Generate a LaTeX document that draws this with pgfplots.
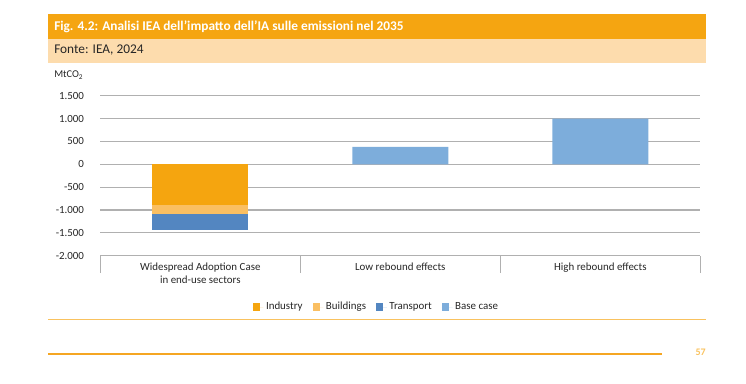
\documentclass[border=0pt]{standalone}
\usepackage{pgfplots}
\pgfplotsset{compat=1.18}
\usepackage{fontspec}
\setmainfont{Carlito}
\definecolor{hdr}{HTML}{F5A511}
\definecolor{hdrlight}{HTML}{FDDCAD}
\definecolor{ind}{HTML}{F5A50F}
\definecolor{bld}{HTML}{FABF62}
\definecolor{trn}{HTML}{5386C1}
\definecolor{base}{HTML}{7DADDB}
\definecolor{gridc}{HTML}{B0B0B0}
\definecolor{lineA}{HTML}{F9C25E}
\definecolor{lineB}{HTML}{F5A623}

\pgfplotstableread{
x ind bld trn base
0 -890 -197 -350 0
1 0 0 0 380
2 0 0 0 1000
}\datatable

\begin{document}
\begin{tikzpicture}
\begin{scope}[x=0.75pt,y=-0.75pt]
\path[use as bounding box] (0,0) rectangle (746,383);
\fill[hdr] (48,14) rectangle (706,38.6);
\fill[hdrlight] (48,38.6) rectangle (706,62.7);
\node[anchor=west, inner sep=0pt, text=white, font=\bfseries\fontsize{10}{12}\selectfont] at (54,26.5) {Fig. 4.2: Analisi IEA dell’impatto dell’IA sulle emissioni nel 2035};
\node[anchor=west, inner sep=0pt, font=\fontsize{10}{12}\selectfont, text=black!85] at (54,50.5) {Fonte: IEA, 2024};
\node[anchor=west, inner sep=0pt, font=\fontsize{7.8}{9}\selectfont, text=black!85] at (54,75) {MtCO\textsubscript{2}};
\draw[lineA, line width=1.1pt] (48,319.7) -- (706,319.7);
\draw[lineB, line width=0.8pt] (48,354) -- (662,354);
\node[anchor=east, inner sep=0pt, text=lineA, font=\bfseries\fontsize{7.5}{8}\selectfont] at (706,352) {57};
\end{scope}
\begin{axis}[
  at={(75.225pt,-191.775pt)}, anchor=south west,
  width=450pt, height=120pt, scale only axis,
  ybar stacked, bar width=72pt,
  xmin=-0.5, xmax=2.5, ymin=-2000, ymax=1500,
  axis line style={draw=none},
  ymajorgrids, grid style={draw=gridc, line width=0.8pt},
  ytick={-2000,-1500,-1000,-500,0,500,1000,1500},
  yticklabels={-2.000,-1.500,-1.000,-500,0,500,1.000,1.500},
  ytick style={draw=none}, ytick pos=left,
  yticklabel style={font=\fontsize{8.2}{9}\selectfont, inner sep=0pt, anchor=east, xshift=-12pt, text=black!85},
  xtick={0,1,2}, xtick pos=bottom,
  xticklabels={{Widespread Adoption Case\\in end-use sectors},{Low rebound effects},{High rebound effects}},
  xticklabel style={font=\fontsize{8.2}{10}\selectfont, align=center, anchor=north, inner sep=0pt, yshift=-5pt, text=black!85},
  major x tick style={draw=none},
  extra x ticks={-0.5,0.5,1.5,2.5},
  extra x tick labels={},
  extra x tick style={tick align=outside, major tick length=12.75pt, major x tick style={draw=gridc, line width=0.8pt}},
  legend columns=4,
  legend style={draw=none, fill=none, at={(0.4607,-0.3206)}, anchor=center, font=\fontsize{8.2}{9}\selectfont, text=black!85, /tikz/every even column/.append style={column sep=5.5pt}},
  legend cell align=left,
  legend image code/.code={\fill[#1] (0pt,-2.7pt) rectangle (5.4pt,2.7pt); \path (0pt,0pt) -- (8pt,0pt);},
]
\draw[gridc, line width=0.8pt] (axis cs:-0.5,-2000) -- (axis cs:2.5,-2000);
\addplot[fill=ind, draw=none] table[x=x, y=ind] {\datatable};
\addplot[fill=bld, draw=none] table[x=x, y=bld] {\datatable};
\addplot[fill=trn, draw=none] table[x=x, y=trn] {\datatable};
\addplot[fill=base, draw=none] table[x=x, y=base] {\datatable};
\legend{Industry, Buildings, Transport, Base case}
\end{axis}
\end{tikzpicture}
\end{document}
